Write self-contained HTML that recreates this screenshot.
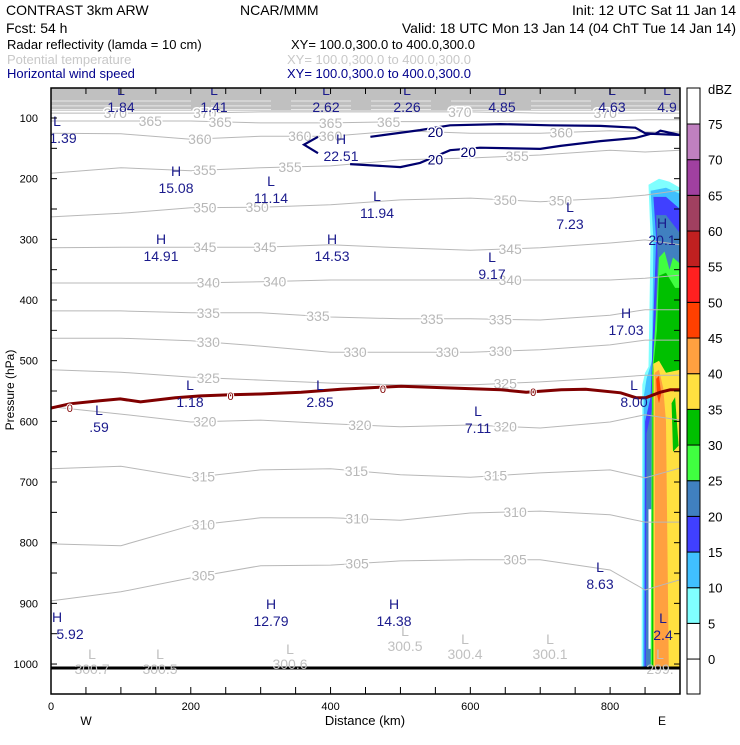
<!DOCTYPE html>
<html><head><meta charset="utf-8"><style>
body{margin:0;background:#fff;width:740px;height:740px;overflow:hidden;font-family:"Liberation Sans",sans-serif}
svg text{font-family:"Liberation Sans",sans-serif}
</style></head><body>
<svg id="chart" width="740" height="740" viewBox="0 0 740 740" xmlns="http://www.w3.org/2000/svg">
<g font-size="14">
<text x="6" y="15">CONTRAST  3km ARW</text>
<text x="240" y="15">NCAR/MMM</text>
<text x="736" y="15" text-anchor="end">Init: 12 UTC Sat 11 Jan 14</text>
<text x="6" y="33">Fcst:   54 h</text>
<text x="736" y="33" text-anchor="end">Valid: 18 UTC Mon 13 Jan 14 (04 ChT Tue 14 Jan 14)</text>
<text x="7" y="49" font-size="13">Radar reflectivity (lamda = 10 cm)</text>
<text x="291" y="49" font-size="13">XY= 100.0,300.0 to 400.0,300.0</text>
<text x="7" y="64" font-size="13" fill="#c8c8c8">Potential temperature</text>
<text x="287" y="64" font-size="13" fill="#c8c8c8">XY= 100.0,300.0 to 400.0,300.0</text>
<text x="7" y="78" font-size="13" fill="#00008c">Horizontal wind speed</text>
<text x="287" y="78" font-size="13" fill="#00008c">XY= 100.0,300.0 to 400.0,300.0</text>
</g>
<g id="plot"></g>
</svg>
<script>
// ---- data ----
const xKm=[0,100,200,300,400,500,600,700,800,850,900];
const thetaLevels=[370,365,360,355,350,345,340,335,330,325,320,315,310,305];
const th370=[92,92,92,90,90,90,90,92,92,92,92];
const th365=[105,105,105,108,108,106,106,105,105,103,103];
const th360=[125,126,135,130,130,121,125,125,121,123,123];
const th355=[191,182,187,182,179,169,166,161,153,156,153];
const th350=[263,257,248,247,243,235,232,238,232,227,219];
const th345=[314,313,313,313,309,314,318,314,306,301,309];
const th340=[372,372,372,370,367,367,367,367,367,364,359];
const th335=[418,418,421,421,428,431,431,433,425,416,416];
const th330=[463,463,467,476,486,486,486,482,474,466,466];
const th325=[515,519,527,532,537,540,540,535,528,524,524];
const th320=[576,588,601,598,604,609,606,611,601,589,598];
const th315=[678,674,693,680,678,688,692,685,680,693,677];
const th310=[802,805,772,759,759,763,751,748,754,766,766];
const th305=[896,881,858,838,837,830,828,828,845,878,861];
const thetaSeries=[th370,th365,th360,th355,th350,th345,th340,th335,th330,th325,th320,th315,th310,th305];
const thetaLabelKm=[[92,220,585,793],[142,242,400,483],[213,356,400,730],[220,342,667],[220,295,650,729],[220,306,657],[225,320,657],[225,382,545,643],[225,435,567,643],[225,650],[220,442,650],[218,437,636],[218,438,664],[218,438,664]];
const windUpperKm=[457,528,571,643,714,786,836,850,865,872,900];
const windUpperP=[131,120,112,110,112,113,116,125,126,121,128];
const windLowerKm=[428,500,528,571,614,700,729,786,836,858,900];
const windLowerP=[176,181,174,153,149,151,146,138,133,126,128];
const windHookKm=[382,362,382];
const windHookP=[131,144,158];
const windLabelKm=[550,550,597];
const windLabelP=[123,168,156];
const frzKm=[0,27,70,99,128,178,214,257,300,358,415,501,572,644,680,730,765,815,837,851,872,886,900];
const frzP=[578,571,566,563,568,561,558,556,555,552,547,542,545,548,552,548,547,553,561,561,552,548,548];
const dbzLevels=[0,5,10,15,20,25,30,35,40,45,50,55,60,65,70,75];
const dbzColors=["#ffffff","#80ffff","#40c0ff","#4040ff","#4080c0","#40ff40","#00c000","#ffe040","#ffa040","#ff4000","#ff2020","#c02020","#a04060","#a040a0","#c080c0"];
// reflectivity regions: [colorIndex, km[], p[]]
const refl=[
 [1,[855,870,885,900,900,845,846,850,855,858],[210,200,205,215,1005,1005,540,520,510,300]],
 [2,[858,880,900,900,847,848,852,860,862],[220,215,225,1005,1005,560,530,500,300]],
 [3,[862,880,900,900,849,850,858,866],[230,230,250,1005,1005,600,560,300]],
 [4,[866,880,900,900,851,852,860,868],[260,260,290,1005,1005,620,580,330]],
 [0,[855,859,859,855],[745,745,975,975]],
 [5,[870,878,885,890,900,900,858,860,866],[330,320,350,330,340,1005,1005,520,420]],
 [6,[870,880,893,900,900,860,861,867],[360,355,380,380,1005,1005,520,450]],
 [7,[862,870,880,900,900,862],[505,500,520,515,1005,1005]],
 [8,[864,870,876,880,884,864],[520,515,545,600,1005,1005]],
 [6,[888,893,898,890],[570,560,640,650]],
 [9,[866,870,873,870,867],[530,525,555,570,555]]
];
const yTicks=[100,200,300,400,500,600,700,800,900,1000];
const xTicks=[0,200,400,600,800];
// ---- axes ----
const X0=51,X1=680,Y0=88,Y1=694;
const xs=k=>X0+k*(X1-X0)/900;
const ys=p=>118+(p-100)*0.6067;
const NS="http://www.w3.org/2000/svg";
const plot=document.getElementById('plot');
function mk(tag,attrs,parent){const e=document.createElementNS(NS,tag);for(const k in attrs)e.setAttribute(k,attrs[k]);(parent||plot).appendChild(e);return e;}
function pts(ks,ps){return ks.map((k,i)=>xs(k).toFixed(1)+","+ys(ps[i]).toFixed(1)).join(" ");}
const clip=mk('clipPath',{id:'pc'});mk('rect',{x:X0,y:Y0,width:X1-X0,height:Y1-Y0},clip);
const g=mk('g',{'clip-path':'url(#pc)'});
const band=mk('rect',{x:X0,y:Y0,width:X1-X0,height:ys(88)-Y0,fill:'#c0c0c0'},g);


[72,80,86].forEach(p=>{const l=mk('line',{x1:X0,x2:X1,y1:ys(p),y2:ys(p),stroke:'#e8e8e8','stroke-width':1,'stroke-dasharray':'60 20'},g);

});
refl.forEach(r=>{const pg=mk('polygon',{points:pts(r[1],r[2]),fill:dbzColors[r[0]]},g);

});
thetaSeries.forEach((s,i)=>{const pl=mk('polyline',{points:pts(xKm,s),fill:'none',stroke:'#b8b8b8','stroke-width':1},g);


thetaLabelKm[i].forEach(k=>{let j=0;while(j<xKm.length-2&&xKm[j+1]<k)j++;const t=(k-xKm[j])/(xKm[j+1]-xKm[j]);const p=s[j]+t*(s[j+1]-s[j]);
const tx=mk('text',{x:xs(k),y:ys(p)+5,'text-anchor':'middle','font-size':14,fill:'#b8b8b8',stroke:'#fff','stroke-width':3,'paint-order':'stroke'},g);


tx.textContent=thetaLevels[i];});});
[[windUpperKm,windUpperP],[windLowerKm,windLowerP],[windHookKm,windHookP]].forEach(w=>{const pl=mk('polyline',{points:pts(w[0],w[1]),fill:'none',stroke:'#00006e','stroke-width':2.2},g);

});
windLabelKm.forEach((k,i)=>{const t=mk('text',{x:xs(k),y:ys(windLabelP[i])+5,'text-anchor':'middle','font-size':14,fill:'#00006e',stroke:'#fff','stroke-width':3,'paint-order':'stroke'},g);


t.textContent='20';});
const fz=mk('polyline',{points:pts(frzKm,frzP),fill:'none',stroke:'#800000','stroke-width':3},g);


[27,257,475,690].forEach(k=>{let j=0;while(j<frzKm.length-2&&frzKm[j+1]<k)j++;const p=frzP[j];const t=mk('text',{x:xs(k),y:ys(p)+4,'text-anchor':'middle','font-size':11,fill:'#800000',stroke:'#fff','stroke-width':2,'paint-order':'stroke'},g);


t.textContent='0';});
const gl=mk('line',{x1:X0,x2:X1,y1:668,y2:668,stroke:'#000','stroke-width':3},g);


const navy=[["L","1.84",121,91],["L","1.41",214,91],["L","2.62",326,91],["L","2.26",407,91],["L","4.85",502,91],["L","4.63",612,91],["L","4.9",667,91],
["L","1.39",63,122],["H","15.08",176,172],["L","11.14",271,182],["H","22.51",341,140],["L","11.94",377,197],["L","7.23",570,208],
["H","14.91",161,240],["H","14.53",332,240],["L","9.17",492,258],["H","20.1",662,224],["H","17.03",626,314],
["L","1.18",190,386],["L","2.85",320,386],["L",".59",99,411],["L","7.11",478,412],["L","8.00",634,386],["L","8.63",600,568],
["H","5.92",70,618],["H","12.79",271,605],["H","14.38",394,605],["L","2.4",663,619]];
navy.forEach(a=>{const t1=mk('text',{x:(a[1]==="1.39"||a[1]==="5.92")?57:a[2],y:a[3]+4,'text-anchor':'middle','font-size':14,fill:'#1a1a8c'},g);


t1.textContent=a[0];
const t2=mk('text',{x:a[2],y:a[3]+21,'text-anchor':'middle','font-size':14,fill:'#1a1a8c'},g);


t2.textContent=a[1];});
const grayL=[["300.7",92,655],["300.5",160,655],["300.6",290,650],["300.5",405,632],["300.4",465,640],["300.1",550,640],["299.",660,655]];
grayL.forEach(a=>{const t1=mk('text',{x:a[1],y:a[2]+4,'text-anchor':'middle','font-size':14,fill:'#c0c0c0'},g);


t1.textContent='L';
const t2=mk('text',{x:a[1],y:a[2]+19,'text-anchor':'middle','font-size':14,fill:'#c0c0c0'},g);


t2.textContent=a[0];});
const fr=mk('rect',{x:X0,y:Y0,width:X1-X0,height:Y1-Y0,fill:'none',stroke:'#000','stroke-width':1.5});


for(let p=100;p<=1000;p+=50){[[X0,X0+6],[X1-6,X1]].forEach(s=>{const l=mk('line',{x1:s[0],x2:s[1],y1:ys(p),y2:ys(p),stroke:'#000'});

});}
for(let k=50;k<900;k+=50){[[Y0,Y0+6],[Y1-7,Y1]].forEach(s=>{const l=mk('line',{x1:xs(k),x2:xs(k),y1:s[0],y2:s[1],stroke:'#000'});

});}
yTicks.forEach(p=>{const t=mk('text',{x:38,y:ys(p)+4,'text-anchor':'end','font-size':11});


t.textContent=p;});
xTicks.forEach(k=>{const t=mk('text',{x:xs(k),y:710,'text-anchor':'middle','font-size':11});


t.textContent=k;});
[["W",86,'x-west-label'],["E",662,'x-east-label']].forEach(a=>{const t=mk('text',{x:a[1],y:725,'text-anchor':'middle','font-size':12});


t.textContent=a[0];});
const xt=mk('text',{x:365,y:725,'text-anchor':'middle','font-size':13});


xt.textContent='Distance (km)';
const yt=mk('text',{x:14,y:390,'text-anchor':'middle','font-size':12,transform:'rotate(-90 14 390)'});


yt.textContent='Pressure (hPa)';
// colorbar
const CB0=124,CBs=35.67,CX=687,CW=13;
const cbw=mk('rect',{x:CX,y:Y0,width:CW,height:Y1-Y0,fill:'#fff',stroke:'#000'});


dbzColors.forEach((c,i)=>{const yb=CB0+(14-i)*CBs;const r=mk('rect',{x:CX,y:yb,width:CW,height:CBs,fill:c,stroke:'#000'});

});
dbzLevels.forEach((v,i)=>{const t=mk('text',{x:708,y:CB0+(15-i)*CBs+5,'font-size':13});


t.textContent=v;});
const du=mk('text',{x:708,y:94,'font-size':13});


du.textContent='dBZ';
</script>
</body></html>
